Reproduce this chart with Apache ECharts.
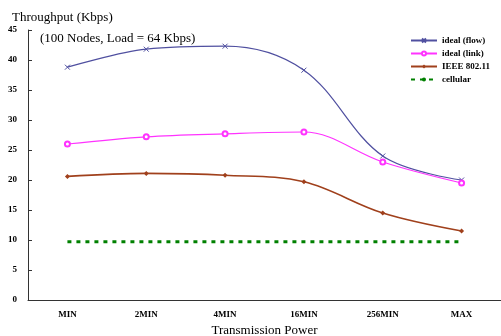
<!DOCTYPE html>
<html>
<head>
<meta charset="utf-8">
<script src="https://cdn.jsdelivr.net/npm/echarts@6/dist/echarts.min.js"></script>
<style>
  html, body { margin: 0; padding: 0; background: #fff; }
  #chart { width: 501px; height: 336px; }
</style>
</head>
<body>
<div id="chart"></div>
<script>
// categories along the x axis
const powerLevels = ["MIN", "2MIN", "4MIN", "16MIN", "256MIN", "MAX"];
// throughput values (Kbps)
const idealFlow = [38.8, 41.8, 42.3, 38.3, 24.0, 20.0];
const idealLink = [26.0, 27.2, 27.7, 28.0, 23.0, 19.5];
const ieee80211 = [20.6, 21.1, 20.8, 19.7, 14.5, 11.5];
const cellular = [9.7, 9.7, 9.7, 9.7, 9.7, 9.7];
const yTicks = [0, 5, 10, 15, 20, 25, 30, 35, 40, 45];

const serif = "Liberation Serif";
const crossPath = "path://M0,0L10,10M10,0L0,10";

let chartDom = document.getElementById("chart");
let myChart = echarts.init(chartDom);

let option = {
  animation: false,
  textStyle: { fontFamily: serif, color: "#000" },
  title: [
    {
      text: "Throughput (Kbps)",
      left: 7, top: 6,
      textStyle: { fontFamily: serif, fontSize: 13, fontWeight: "normal", color: "#000" }
    },
    {
      text: "(100 Nodes, Load = 64 Kbps)",
      left: 35, top: 27,
      textStyle: { fontFamily: serif, fontSize: 13, fontWeight: "normal", color: "#000" }
    }
  ],
  legend: {
    orient: "vertical",
    right: 6, top: 31,
    itemWidth: 26, itemHeight: 5,
    itemGap: 4,
    textStyle: { fontFamily: serif, fontSize: 9, fontWeight: "bold", color: "#000" },
    data: ["ideal (flow)", "ideal (link)", "IEEE 802.11", "cellular"]
  },
  grid: {
    left: 28, right: 0, top: 30, bottom: 36,
    containLabel: false,
    outerBoundsMode: "none"
  },
  xAxis: {
    type: "category",
    data: powerLevels,
    boundaryGap: true,
    name: "Transmission Power",
    nameLocation: "middle",
    nameGap: 20,
    nameTextStyle: { fontFamily: serif, fontSize: 13, color: "#000" },
    axisLine: { lineStyle: { color: "#333", width: 1 } },
    axisTick: { inside: true, length: 3, lineStyle: { color: "#333" } },
    axisLabel: { fontFamily: serif, fontSize: 9, fontWeight: "bold", color: "#000", margin: 10 },
    splitLine: { show: false }
  },
  yAxis: {
    type: "value",
    min: yTicks[0],
    max: yTicks[yTicks.length - 1],
    interval: 5,
    axisLine: { show: true, lineStyle: { color: "#333", width: 1 } },
    axisTick: { show: true, inside: true, length: 4, lineStyle: { color: "#333" } },
    axisLabel: { fontFamily: serif, fontSize: 9, fontWeight: "bold", color: "#000", margin: 11 },
    splitLine: { show: false }
  },
  series: [
    {
      name: "ideal (flow)",
      type: "line",
      smooth: 0.35,
      data: idealFlow,
      symbol: crossPath,
      symbolSize: 5,
      lineStyle: { color: "#5050a0", width: 1.2 },
      itemStyle: { color: "#5050a0", borderColor: "#5050a0", borderWidth: 1 }
    },
    {
      name: "ideal (link)",
      type: "line",
      smooth: 0.35,
      data: idealLink,
      symbol: "emptyCircle",
      symbolSize: 5,
      lineStyle: { color: "#ff33ff", width: 1.2 },
      itemStyle: { color: "#ff33ff", borderColor: "#ff33ff", borderWidth: 1 }
    },
    {
      name: "IEEE 802.11",
      type: "line",
      smooth: 0.35,
      data: ieee80211,
      symbol: "diamond",
      symbolSize: 5,
      lineStyle: { color: "#a0401c", width: 1.6 },
      itemStyle: { color: "#a0401c" }
    },
    {
      name: "cellular",
      type: "line",
      data: cellular,
      symbol: "none",
      lineStyle: { color: "#008000", width: 3, type: [4, 5] },
      itemStyle: { color: "#008000" }
    }
  ]
};

myChart.setOption(option, true);
</script>
</body>
</html>
